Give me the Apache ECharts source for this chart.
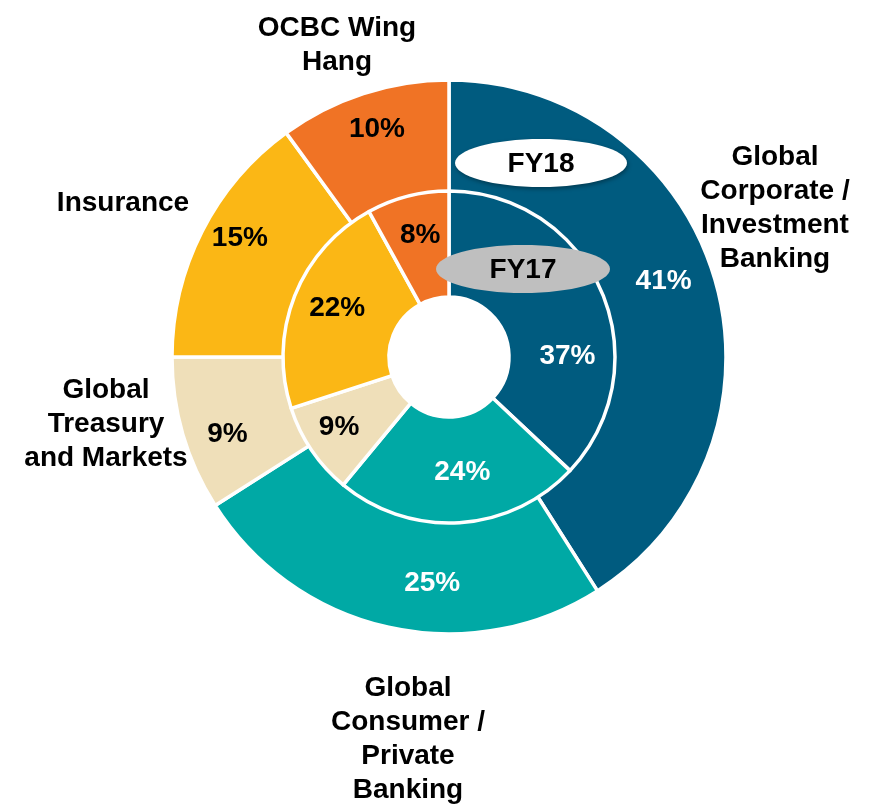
<!DOCTYPE html>
<html>
<head>
<meta charset="utf-8">
<script src="https://cdn.jsdelivr.net/npm/echarts@6/dist/echarts.min.js"></script>
<style>
  html, body { margin: 0; padding: 0; background: #fff; }
  #chart { width: 876px; height: 807px; }
</style>
</head>
<body>
<div id="chart"></div>
<script>
// segments, clockwise from 12 o'clock
var categories = [
  "Global Corporate / Investment Banking",
  "Global Consumer / Private Banking",
  "Global Treasury and Markets",
  "Insurance",
  "OCBC Wing Hang"
];
var fy18 = [41, 25, 9, 15, 10];
var fy17 = [37, 24, 9, 22, 8];

var colors = ["#005b7f", "#00a9a5", "#efdfb9", "#fbb715", "#f07325"];
var textColors = ["#fff", "#fff", "#000", "#000", "#000"];

// label nudges so they sit where the original has them
var outerOffsets = [[0, -13], [32, 8], [-7, 15], [-10, -17], [-3, -15]];
var innerOffsets = [[12, 45], [6, 0], [-14, 5], [-4, -6], [0, -9]];

// category label text (with line breaks) and where to put it
var nameLines = [
  "Global\nCorporate /\nInvestment\nBanking",
  "Global\nConsumer /\nPrivate\nBanking",
  "Global\nTreasury\nand Markets",
  "Insurance",
  "OCBC Wing\nHang"
];
var namePos = [[775, 208], [408, 739], [106, 424], [123, 203], [337, 45]];

var font = "Liberation Sans, Arial, sans-serif";
var cx = 449, cy = 357;

function ringData(values, offsets) {
  return values.map(function (v, i) {
    return {
      name: categories[i],
      value: v,
      itemStyle: { color: colors[i] },
      label: { color: textColors[i], offset: offsets[i] }
    };
  });
}

var myChart = echarts.init(document.getElementById("chart"));

var graphics = [];
for (var i = 0; i < nameLines.length; i++) {
  graphics.push({
    type: "text",
    x: namePos[i][0],
    y: namePos[i][1],
    style: {
      text: nameLines[i],
      fontFamily: font,
      fontWeight: "bold",
      fontSize: 28,
      lineHeight: 34,
      fill: "#000",
      align: "center",
      verticalAlign: "middle"
    }
  });
}
// FY18 / FY17 tags
graphics.push({
  type: "ellipse",
  z: 10,
  shape: { cx: 541, cy: 163, rx: 86, ry: 24 },
  style: { fill: "#fff", shadowBlur: 4, shadowColor: "rgba(0,0,0,0.35)", shadowOffsetX: 1, shadowOffsetY: 2 }
});
graphics.push({
  type: "text", z: 11, x: 541, y: 164,
  style: { text: "FY18", fontFamily: font, fontWeight: "bold", fontSize: 28, fill: "#000", align: "center", verticalAlign: "middle" }
});
graphics.push({
  type: "ellipse",
  z: 10,
  shape: { cx: 523, cy: 269, rx: 87, ry: 24 },
  style: { fill: "#bfbfbf" }
});
graphics.push({
  type: "text", z: 11, x: 523, y: 270,
  style: { text: "FY17", fontFamily: font, fontWeight: "bold", fontSize: 28, fill: "#000", align: "center", verticalAlign: "middle" }
});

var option = {
  animation: false,
  backgroundColor: "#fff",
  tooltip: { show: false },
  graphic: graphics,
  series: [
    {
      name: "FY18",
      type: "pie",
      center: [cx, cy],
      radius: [164, 277],
      startAngle: 90,
      clockwise: true,
      silent: true,
      itemStyle: { borderColor: "#fff", borderWidth: 3.5 },
      label: {
        show: true,
        position: "inside",
        formatter: "{c}%",
        fontFamily: font,
        fontWeight: "bold",
        fontSize: 28
      },
      labelLine: { show: false },
      data: ringData(fy18, outerOffsets)
    },
    {
      name: "FY17",
      type: "pie",
      center: [cx, cy],
      radius: [60, 166],
      startAngle: 90,
      clockwise: true,
      silent: true,
      itemStyle: { borderColor: "#fff", borderWidth: 3.5 },
      label: {
        show: true,
        position: "inside",
        formatter: "{c}%",
        fontFamily: font,
        fontWeight: "bold",
        fontSize: 28
      },
      labelLine: { show: false },
      data: ringData(fy17, innerOffsets)
    }
  ]
};

myChart.setOption(option);
</script>
</body>
</html>
